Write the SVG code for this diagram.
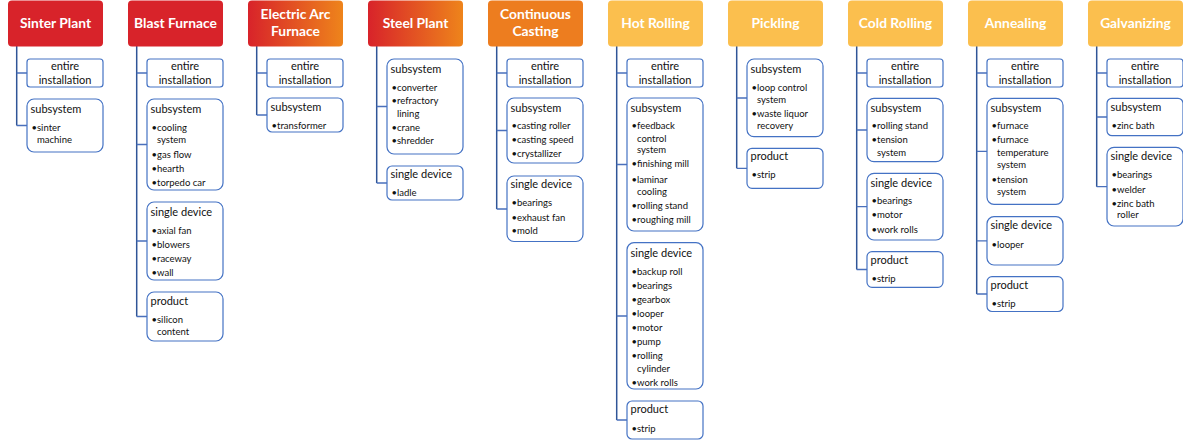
<svg xmlns="http://www.w3.org/2000/svg" width="1183" height="442" viewBox="0 0 1183 442">
<defs>
<linearGradient id="gRO" x1="0" y1="0" x2="1" y2="0">
<stop offset="0" stop-color="#D8232A"/>
<stop offset="1" stop-color="#EE841B"/>
</linearGradient>
<style>
.hdr{stroke:none}
.red{fill:#D8232A}
.ro{fill:url(#gRO)}
.org{fill:#ED7D1F}
.yel{fill:#FBBF4E}
.ht{font-family:Lato,"Liberation Sans",sans-serif;font-weight:bold;font-size:13.8px;fill:#fff;text-anchor:middle}
.box{fill:#fff;stroke:#4472C4;stroke-width:1.2}
.t{font-family:Lato,"Liberation Sans",sans-serif;font-size:11px;fill:#111}
.c{text-anchor:middle}
.b{font-family:Lato,"Liberation Sans",sans-serif;font-size:9.5px;fill:#111}
.v{stroke:#2F5597;stroke-width:1.5;fill:none}
.h{stroke:#4A70BC;stroke-width:1.3;fill:none}
</style>
</defs>
<rect width="1183" height="442" fill="#fff"/>

<g id="connectors">
<path class="v" d="M16.7 46V125.5M136.7 46V316.5M256.7 46V115M376.7 46V183M496.7 46V209M616.7 46V420M736.7 46V168.3M856.7 46V269.5M976.7 46V294M1096.7 46V186.7"/>
<path class="h" d="M16.7 73H27M16.7 125.5H27M136.7 73H147M136.7 144.5H147M136.7 241H147M136.7 316.5H147M256.7 73H267M256.7 115H267M376.7 106.5H387M376.7 183H387M496.7 73H507M496.7 130.5H507M496.7 209H507M616.7 73H627M616.7 164.5H627M616.7 316H627M616.7 420H627M736.7 98H747M736.7 168.3H747M856.7 73H867M856.7 130H867M856.7 206.7H867M856.7 269.5H867M976.7 73H987M976.7 151.3H987M976.7 240.8H987M976.7 294H987M1096.7 73H1107M1096.7 117H1107M1096.7 186.7H1107"/>
</g>

<!-- Column 0: Sinter Plant -->
<g transform="translate(8,0)">
<g id="sinter-plant"><rect class="hdr red" x="0" y="0.5" width="95" height="46" rx="4"/><text class="ht" x="47.5" y="28">Sinter Plant</text></g>
<g id="sinter-entire"><rect class="box" x="19" y="59" width="76" height="28" rx="3"/><text class="t c" x="57" y="69.5">entire</text><text class="t c" x="57" y="83.5">installation</text></g>
<g id="sinter-subsystem"><rect class="box" x="19" y="99" width="76" height="53" rx="7"/><text class="t" x="22.5" y="112.6">subsystem</text>
<text class="b" x="23.5" y="131.3">•</text><text class="b" x="29" y="131.3">sinter</text><text class="b" x="29" y="142.8">machine</text></g>
</g>

<!-- Column 1: Blast Furnace -->
<g transform="translate(128,0)">
<g id="blast-furnace"><rect class="hdr red" x="0" y="0.5" width="95" height="46" rx="4"/><text class="ht" x="47.5" y="28">Blast Furnace</text></g>
<g id="blast-entire"><rect class="box" x="19" y="59" width="76" height="28" rx="3"/><text class="t c" x="57" y="69.5">entire</text><text class="t c" x="57" y="83.5">installation</text></g>
<g id="blast-subsystem"><rect class="box" x="19" y="99" width="76" height="91" rx="7"/><text class="t" x="22.5" y="112.6">subsystem</text>
<text class="b" x="23.5" y="131.3">•</text><text class="b" x="29" y="131.3">cooling</text><text class="b" x="29" y="142.6">system</text>
<text class="b" x="23.5" y="157.6">•</text><text class="b" x="29" y="157.6">gas flow</text>
<text class="b" x="23.5" y="171.6">•</text><text class="b" x="29" y="171.6">hearth</text>
<text class="b" x="23.5" y="185.6">•</text><text class="b" x="29" y="185.6">torpedo car</text></g>
<g id="blast-single-device"><rect class="box" x="19" y="202" width="76" height="78" rx="7"/><text class="t" x="22.5" y="215.6">single device</text>
<text class="b" x="23.5" y="233.6">•</text><text class="b" x="29" y="233.6">axial fan</text>
<text class="b" x="23.5" y="247.6">•</text><text class="b" x="29" y="247.6">blowers</text>
<text class="b" x="23.5" y="261.6">•</text><text class="b" x="29" y="261.6">raceway</text>
<text class="b" x="23.5" y="275.6">•</text><text class="b" x="29" y="275.6">wall</text></g>
<g id="blast-product"><rect class="box" x="19" y="292" width="76" height="49" rx="7"/><text class="t" x="22.5" y="304.8">product</text>
<text class="b" x="23.5" y="322.6">•</text><text class="b" x="29" y="322.6">silicon</text><text class="b" x="29" y="334.6">content</text></g>
</g>

<!-- Column 2: Electric Arc Furnace -->
<g transform="translate(248,0)">
<g id="electric-arc-furnace"><rect class="hdr ro" x="0" y="0.5" width="95" height="46" rx="4"/><text class="ht" x="47.5" y="19">Electric Arc</text><text class="ht" x="47.5" y="36">Furnace</text></g>
<g id="eaf-entire"><rect class="box" x="19" y="59" width="76" height="28" rx="3"/><text class="t c" x="57" y="69.5">entire</text><text class="t c" x="57" y="83.5">installation</text></g>
<g id="eaf-subsystem"><rect class="box" x="19" y="98" width="76" height="34" rx="5"/><text class="t" x="22.5" y="110.6">subsystem</text>
<text class="b" x="23.5" y="129">•</text><text class="b" x="29" y="129">transformer</text></g>
</g>

<!-- Column 3: Steel Plant -->
<g transform="translate(368,0)">
<g id="steel-plant"><rect class="hdr ro" x="0" y="0.5" width="95" height="46" rx="4"/><text class="ht" x="47.5" y="28">Steel Plant</text></g>
<g id="steel-subsystem"><rect class="box" x="19" y="59" width="76" height="95" rx="7"/><text class="t" x="22.5" y="72.6">subsystem</text>
<text class="b" x="23.5" y="91">•</text><text class="b" x="29" y="91">converter</text>
<text class="b" x="23.5" y="104.3">•</text><text class="b" x="29" y="104.3">refractory</text><text class="b" x="29" y="116.6">lining</text>
<text class="b" x="23.5" y="130.6">•</text><text class="b" x="29" y="130.6">crane</text>
<text class="b" x="23.5" y="144.3">•</text><text class="b" x="29" y="144.3">shredder</text></g>
<g id="steel-single-device"><rect class="box" x="19" y="166" width="76" height="34" rx="5"/><text class="t" x="22.5" y="178.3">single device</text>
<text class="b" x="23.5" y="195.6">•</text><text class="b" x="29" y="195.6">ladle</text></g>
</g>

<!-- Column 4: Continuous Casting -->
<g transform="translate(488,0)">
<g id="continuous-casting"><rect class="hdr org" x="0" y="0.5" width="95" height="46" rx="4"/><text class="ht" x="47.5" y="19">Continuous</text><text class="ht" x="47.5" y="36">Casting</text></g>
<g id="cc-entire"><rect class="box" x="19" y="59" width="76" height="28" rx="3"/><text class="t c" x="57" y="69.5">entire</text><text class="t c" x="57" y="83.5">installation</text></g>
<g id="cc-subsystem"><rect class="box" x="19" y="98" width="76" height="65" rx="7"/><text class="t" x="22.5" y="111.6">subsystem</text>
<text class="b" x="23.5" y="129.3">•</text><text class="b" x="29" y="129.3">casting roller</text>
<text class="b" x="23.5" y="143.3">•</text><text class="b" x="29" y="143.3">casting speed</text>
<text class="b" x="23.5" y="157.3">•</text><text class="b" x="29" y="157.3">crystallizer</text></g>
<g id="cc-single-device"><rect class="box" x="19" y="176" width="76" height="65.5" rx="7"/><text class="t" x="22.5" y="188.3">single device</text>
<text class="b" x="23.5" y="206">•</text><text class="b" x="29" y="206">bearings</text>
<text class="b" x="23.5" y="220.6">•</text><text class="b" x="29" y="220.6">exhaust fan</text>
<text class="b" x="23.5" y="234.3">•</text><text class="b" x="29" y="234.3">mold</text></g>
</g>

<!-- Column 5: Hot Rolling -->
<g transform="translate(608,0)">
<g id="hot-rolling"><rect class="hdr yel" x="0" y="0.5" width="95" height="46" rx="4"/><text class="ht" x="47.5" y="28">Hot Rolling</text></g>
<g id="hr-entire"><rect class="box" x="19" y="59" width="76" height="28" rx="3"/><text class="t c" x="57" y="69.5">entire</text><text class="t c" x="57" y="83.5">installation</text></g>
<g id="hr-subsystem"><rect class="box" x="19" y="98" width="76" height="133" rx="7"/><text class="t" x="22.5" y="111.6">subsystem</text>
<text class="b" x="23.5" y="129.3">•</text><text class="b" x="29" y="129.3">feedback</text><text class="b" x="29" y="141.6">control</text><text class="b" x="29" y="153.3">system</text>
<text class="b" x="23.5" y="167.3">•</text><text class="b" x="29" y="167.3">finishing mill</text>
<text class="b" x="23.5" y="182.6">•</text><text class="b" x="29" y="182.6">laminar</text><text class="b" x="29" y="194.6">cooling</text>
<text class="b" x="23.5" y="208.6">•</text><text class="b" x="29" y="208.6">rolling stand</text>
<text class="b" x="23.5" y="222.6">•</text><text class="b" x="29" y="222.6">roughing mill</text></g>
<g id="hr-single-device"><rect class="box" x="19" y="242.7" width="76" height="146.3" rx="7"/><text class="t" x="22.5" y="256.6">single device</text>
<text class="b" x="23.5" y="274.6">•</text><text class="b" x="29" y="274.6">backup roll</text>
<text class="b" x="23.5" y="288.8">•</text><text class="b" x="29" y="288.8">bearings</text>
<text class="b" x="23.5" y="302.8">•</text><text class="b" x="29" y="302.8">gearbox</text>
<text class="b" x="23.5" y="316.6">•</text><text class="b" x="29" y="316.6">looper</text>
<text class="b" x="23.5" y="330.6">•</text><text class="b" x="29" y="330.6">motor</text>
<text class="b" x="23.5" y="344.6">•</text><text class="b" x="29" y="344.6">pump</text>
<text class="b" x="23.5" y="359.3">•</text><text class="b" x="29" y="359.3">rolling</text><text class="b" x="29" y="371.6">cylinder</text>
<text class="b" x="23.5" y="385.6">•</text><text class="b" x="29" y="385.6">work rolls</text></g>
<g id="hr-product"><rect class="box" x="19" y="401" width="76" height="38" rx="5"/><text class="t" x="22.5" y="413.3">product</text>
<text class="b" x="23.5" y="432">•</text><text class="b" x="29" y="432">strip</text></g>
</g>

<!-- Column 6: Pickling -->
<g transform="translate(728,0)">
<g id="pickling"><rect class="hdr yel" x="0" y="0.5" width="95" height="46" rx="4"/><text class="ht" x="47.5" y="28">Pickling</text></g>
<g id="pk-subsystem"><rect class="box" x="19" y="59" width="76" height="77.7" rx="7"/><text class="t" x="22.5" y="72.6">subsystem</text>
<text class="b" x="23.5" y="91">•</text><text class="b" x="29" y="91">loop control</text><text class="b" x="29" y="102.6">system</text>
<text class="b" x="23.5" y="116.6">•</text><text class="b" x="29" y="116.6">waste liquor</text><text class="b" x="29" y="129">recovery</text></g>
<g id="pk-product"><rect class="box" x="19" y="148.3" width="76" height="40" rx="5"/><text class="t" x="22.5" y="160">product</text>
<text class="b" x="23.5" y="178.3">•</text><text class="b" x="29" y="178.3">strip</text></g>
</g>

<!-- Column 7: Cold Rolling -->
<g transform="translate(848,0)">
<g id="cold-rolling"><rect class="hdr yel" x="0" y="0.5" width="95" height="46" rx="4"/><text class="ht" x="47.5" y="28">Cold Rolling</text></g>
<g id="cr-entire"><rect class="box" x="19" y="59" width="76" height="28" rx="3"/><text class="t c" x="57" y="69.5">entire</text><text class="t c" x="57" y="83.5">installation</text></g>
<g id="cr-subsystem"><rect class="box" x="19" y="98.3" width="76" height="63.4" rx="7"/><text class="t" x="22.5" y="111.6">subsystem</text>
<text class="b" x="23.5" y="129.3">•</text><text class="b" x="29" y="129.3">rolling stand</text>
<text class="b" x="23.5" y="143.3">•</text><text class="b" x="29" y="143.3">tension</text><text class="b" x="29" y="156">system</text></g>
<g id="cr-single-device"><rect class="box" x="19" y="173.3" width="76" height="66.7" rx="7"/><text class="t" x="22.5" y="186.6">single device</text>
<text class="b" x="23.5" y="204.3">•</text><text class="b" x="29" y="204.3">bearings</text>
<text class="b" x="23.5" y="218.3">•</text><text class="b" x="29" y="218.3">motor</text>
<text class="b" x="23.5" y="232.6">•</text><text class="b" x="29" y="232.6">work rolls</text></g>
<g id="cr-product"><rect class="box" x="19" y="251.7" width="76" height="35.6" rx="5"/><text class="t" x="22.5" y="264">product</text>
<text class="b" x="23.5" y="281.6">•</text><text class="b" x="29" y="281.6">strip</text></g>
</g>

<!-- Column 8: Annealing -->
<g transform="translate(968,0)">
<g id="annealing"><rect class="hdr yel" x="0" y="0.5" width="95" height="46" rx="4"/><text class="ht" x="47.5" y="28">Annealing</text></g>
<g id="an-entire"><rect class="box" x="19" y="59" width="76" height="28" rx="3"/><text class="t c" x="57" y="69.5">entire</text><text class="t c" x="57" y="83.5">installation</text></g>
<g id="an-subsystem"><rect class="box" x="19" y="98.3" width="76" height="106" rx="7"/><text class="t" x="22.5" y="111.6">subsystem</text>
<text class="b" x="23.5" y="129.3">•</text><text class="b" x="29" y="129.3">furnace</text>
<text class="b" x="23.5" y="143.3">•</text><text class="b" x="29" y="143.3">furnace</text><text class="b" x="29" y="155.6">temperature</text><text class="b" x="29" y="167.6">system</text>
<text class="b" x="23.5" y="182.6">•</text><text class="b" x="29" y="182.6">tension</text><text class="b" x="29" y="194.6">system</text></g>
<g id="an-single-device"><rect class="box" x="19" y="216.7" width="76" height="48.3" rx="7"/><text class="t" x="22.5" y="229.3">single device</text>
<text class="b" x="23.5" y="247.6">•</text><text class="b" x="29" y="247.6">looper</text></g>
<g id="an-product"><rect class="box" x="19" y="276.7" width="76" height="34.8" rx="5"/><text class="t" x="22.5" y="289.3">product</text>
<text class="b" x="23.5" y="306.6">•</text><text class="b" x="29" y="306.6">strip</text></g>
</g>

<!-- Column 9: Galvanizing -->
<g transform="translate(1088,0)">
<g id="galvanizing"><rect class="hdr yel" x="0" y="0.5" width="95" height="46" rx="4"/><text class="ht" x="47.5" y="28">Galvanizing</text></g>
<g id="gv-entire"><rect class="box" x="19" y="59" width="76" height="28" rx="3"/><text class="t c" x="57" y="69.5">entire</text><text class="t c" x="57" y="83.5">installation</text></g>
<g id="gv-subsystem"><rect class="box" x="19" y="98.3" width="76" height="37.4" rx="5"/><text class="t" x="22.5" y="110.6">subsystem</text>
<text class="b" x="23.5" y="129">•</text><text class="b" x="29" y="129">zinc bath</text></g>
<g id="gv-single-device"><rect class="box" x="19" y="147.3" width="76" height="78.7" rx="7"/><text class="t" x="22.5" y="160">single device</text>
<text class="b" x="23.5" y="178.3">•</text><text class="b" x="29" y="178.3">bearings</text>
<text class="b" x="23.5" y="192.6">•</text><text class="b" x="29" y="192.6">welder</text>
<text class="b" x="23.5" y="206.6">•</text><text class="b" x="29" y="206.6">zinc bath</text><text class="b" x="29" y="218.3">roller</text></g>
</g>
</svg>
